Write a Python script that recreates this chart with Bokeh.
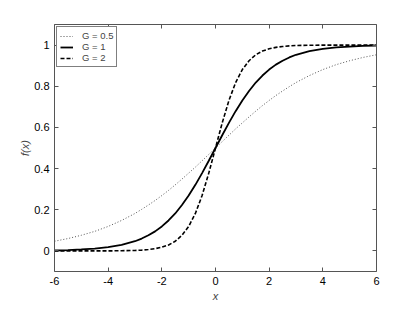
from bokeh.plotting import figure
from bokeh.models import LinearAxis, Range1d, FixedTicker, Legend, LegendItem, CustomJSTickFormatter
from bokeh.embed import file_html
from bokeh.resources import INLINE

x = [-6, -5.5, -5, -4.5, -4, -3.5, -3, -2.75, -2.5, -2.25, -2, -1.75, -1.5, -1.25, -1, -0.75, -0.5, -0.25, 0,
     0.25, 0.5, 0.75, 1, 1.25, 1.5, 1.75, 2, 2.25, 2.5, 2.75, 3, 3.5, 4, 4.5, 5, 5.5, 6]
g05 = [0.047, 0.060, 0.076, 0.095, 0.119, 0.148, 0.182, 0.202, 0.223, 0.245, 0.269, 0.294, 0.321, 0.349, 0.378, 0.407, 0.438, 0.469, 0.5,
       0.531, 0.562, 0.593, 0.622, 0.651, 0.679, 0.706, 0.731, 0.755, 0.777, 0.798, 0.818, 0.852, 0.881, 0.905, 0.924, 0.940, 0.953]
g1 = [0.002, 0.004, 0.007, 0.011, 0.018, 0.029, 0.047, 0.060, 0.076, 0.095, 0.119, 0.148, 0.182, 0.223, 0.269, 0.321, 0.378, 0.438, 0.5,
      0.562, 0.622, 0.679, 0.731, 0.777, 0.818, 0.852, 0.881, 0.905, 0.924, 0.940, 0.953, 0.971, 0.982, 0.989, 0.993, 0.996, 0.998]
g2 = [0.000, 0.000, 0.000, 0.000, 0.000, 0.001, 0.002, 0.004, 0.007, 0.011, 0.018, 0.029, 0.047, 0.076, 0.119, 0.182, 0.269, 0.378, 0.5,
      0.622, 0.731, 0.818, 0.881, 0.924, 0.953, 0.971, 0.982, 0.989, 0.993, 0.996, 0.998, 0.999, 1.000, 1.000, 1.000, 1.000, 1.000]
labels = ["G = 0.5", "G = 1", "G = 2"]
xticks = [-6, -4, -2, 0, 2, 4, 6]
xtick_labels = ["-6", "-4", "-2", "0", "2", "4", "6"]
yticks = [0, 0.2, 0.4, 0.6, 0.8, 1]
ytick_labels = ["0", "0.2", "0.4", "0.6", "0.8", "1"]

FONT = "Liberation Sans"
AXC = "#555555"

p = figure(width=400, height=304, output_backend="svg", toolbar_location=None,
           x_range=Range1d(-6, 6), y_range=Range1d(-0.1, 1.1),
           min_border_left=54, min_border_right=24, min_border_top=24, min_border_bottom=27)
p.grid.visible = False
p.outline_line_color = None

r1 = p.line(x, g05, line_color="#555555", line_width=1, line_dash="1 2")
r2 = p.line(x, g1, line_color="black", line_width=1.8)
r3 = p.line(x, g2, line_color="black", line_width=1.6, line_dash="4 2")

def style(ax):
    ax.axis_line_color = AXC
    ax.major_tick_line_color = AXC
    ax.major_tick_in = 4
    ax.major_tick_out = 0
    ax.minor_tick_line_color = None
    ax.major_label_text_font = FONT
    ax.major_label_text_font_size = "11px"
    ax.major_label_text_color = "black"
    ax.axis_label_text_font = FONT
    ax.axis_label_text_font_size = "11px"
    ax.axis_label_text_font_style = "italic"

for ax in p.xaxis:
    ax.ticker = FixedTicker(ticks=xticks)
    ax.major_label_overrides = dict(zip(xticks, xtick_labels))
    ax.axis_label = "x"
    ax.axis_label_standoff = 2
    ax.major_label_standoff = 5
    style(ax)
for ax in p.yaxis:
    ax.ticker = FixedTicker(ticks=yticks)
    ax.major_label_overrides = dict(zip(yticks, ytick_labels))
    ax.axis_label = "f(x)"
    ax.axis_label_standoff = 0
    ax.major_label_standoff = 5
    style(ax)

blank = CustomJSTickFormatter(code="return ''")
top = LinearAxis(ticker=FixedTicker(ticks=xticks), formatter=blank)
style(top)
p.add_layout(top, "above")
right = LinearAxis(ticker=FixedTicker(ticks=yticks), formatter=blank)
style(right)
p.add_layout(right, "right")

legend = Legend(items=[LegendItem(label=labels[0], renderers=[r1]),
                       LegendItem(label=labels[1], renderers=[r2]),
                       LegendItem(label=labels[2], renderers=[r3])],
                location="top_left")
legend.label_text_font = FONT
legend.label_text_font_size = "9.5px"
legend.label_height = 8
legend.glyph_height = 8
legend.glyph_width = 13
legend.spacing = 0
legend.padding = 3
legend.margin = 2
legend.label_standoff = 9
legend.border_line_color = "black"
legend.border_line_width = 1.5
legend.background_fill_alpha = 1
p.add_layout(legend, "center")

open("out.html", "w").write(file_html(p, INLINE))
